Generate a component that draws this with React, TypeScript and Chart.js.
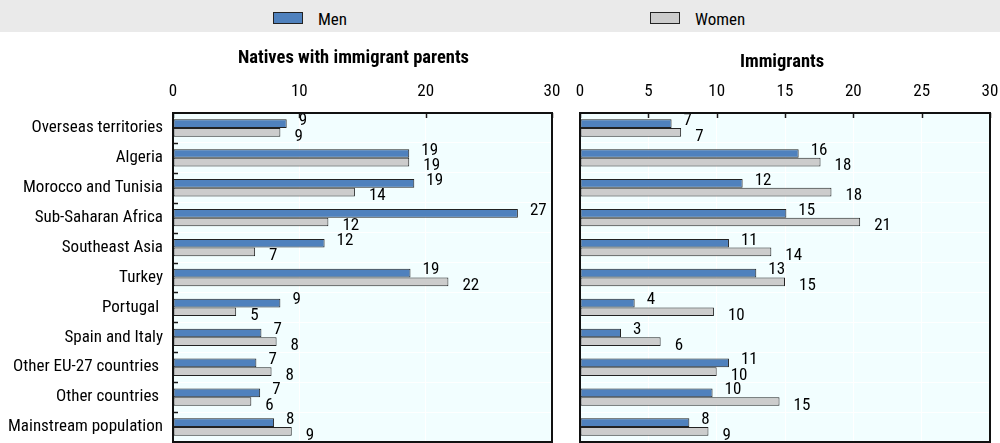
import React, { useEffect, useRef } from "react";
import { Chart, registerables } from "chart.js";

Chart.register(...registerables);

const categories = [
  "Overseas territories",
  "Algeria",
  "Morocco and Tunisia",
  "Sub-Saharan Africa",
  "Southeast Asia",
  "Turkey",
  "Portugal ",
  "Spain and Italy",
  "Other EU-27 countries ",
  "Other countries ",
  "Mainstream population",
];

const seriesNames = ["Men", "Women"];

const nativesMen = [9.0, 18.7, 19.1, 27.3, 12.0, 18.8, 8.5, 7.0, 6.6, 6.9, 8.0];
const nativesWomen = [8.5, 18.7, 14.4, 12.3, 6.5, 21.8, 5.0, 8.2, 7.8, 6.2, 9.4];
const immigrantsMen = [6.7, 16.0, 11.9, 15.1, 10.9, 12.9, 4.0, 3.0, 10.9, 9.7, 8.0];
const immigrantsWomen = [7.4, 17.6, 18.4, 20.5, 14.0, 15.0, 9.8, 5.9, 10.0, 14.6, 9.4];

const panelTitles = ["Natives with immigrant parents", "Immigrants"];

const FAMILY = "Roboto, 'Liberation Sans', sans-serif";
const FS = 17;
const TITLE_FS = 18.5;
const MEN_COLOR = "#4F81BD";
const WOMEN_COLOR = "#CCCCCC";
const EDGE = "#222222";
const PLOT_BG = "#F2FEFF";

const panelPlugin = {
  id: "panel",
  beforeDraw(chart: any) {
    const { ctx, chartArea: a } = chart;
    ctx.save();
    ctx.fillStyle = PLOT_BG;
    ctx.fillRect(a.left, a.top, a.right - a.left, a.bottom - a.top);
    ctx.restore();
  },
  afterDatasetsDraw(chart: any) {
    const { ctx } = chart;
    ctx.save();
    ctx.font = `condensed ${FS}px ${FAMILY}`;
    ctx.fillStyle = "#000";
    ctx.textAlign = "left";
    ctx.textBaseline = "middle";
    chart.data.datasets.forEach((ds: any, di: number) => {
      const meta = chart.getDatasetMeta(di);
      meta.data.forEach((bar: any, i: number) => {
        const v = ds.data[i];
        const dx = di === 0 ? 12 : 14;
        const dy = di === 0 ? -3 : 4;
        ctx.fillText(String(Math.round(v)), bar.x + dx, bar.y + dy);
      });
    });
    ctx.restore();
  },
  afterDraw(chart: any, _args: any, opts: any) {
    const { ctx, chartArea: a } = chart;
    const xs = chart.scales.x;
    const ys = chart.scales.y;
    ctx.save();
    ctx.strokeStyle = "#1a1a1a";
    ctx.lineWidth = 1.5;
    xs.ticks.forEach((t: any) => {
      const px = Math.round(xs.getPixelForValue(t.value)) + 0.5;
      ctx.beginPath();
      ctx.moveTo(px, a.top);
      ctx.lineTo(px, a.top + 5);
      ctx.stroke();
    });
    if (opts.leftTicks) {
      const n = chart.data.labels.length;
      for (let i = 0; i < n - 1; i++) {
        const py = Math.round((ys.getPixelForValue(i) + ys.getPixelForValue(i + 1)) / 2) + 0.5;
        ctx.beginPath();
        ctx.moveTo(a.left, py);
        ctx.lineTo(a.left + 5, py);
        ctx.stroke();
      }
    }
    ctx.lineWidth = 2;
    ctx.strokeStyle = "#111";
    ctx.strokeRect(a.left, a.top, a.right - a.left, a.bottom - a.top);
    ctx.font = `condensed bold ${TITLE_FS}px ${FAMILY}`;
    ctx.fillStyle = "#000";
    ctx.textAlign = "center";
    ctx.textBaseline = "middle";
    ctx.fillText(opts.title, (a.left + a.right) / 2 + opts.titleDx, opts.titleY);
    ctx.restore();
  },
};

function makeConfig(
  men: number[],
  women: number[],
  title: string,
  step: number,
  yWidth: number,
  padRight: number,
  showY: boolean,
  titleDx: number,
  titleY: number
): any {
  const ds = (label: string, data: number[], color: string) => ({
    label,
    data,
    backgroundColor: color,
    borderColor: EDGE,
    borderWidth: 1,
    borderSkipped: false,
    categoryPercentage: 0.58,
    barPercentage: 1,
  });
  return {
    type: "bar",
    data: {
      labels: categories,
      datasets: [ds(seriesNames[0], men, MEN_COLOR), ds(seriesNames[1], women, WOMEN_COLOR)],
    },
    options: {
      indexAxis: "y",
      responsive: false,
      animation: false,
      layout: { padding: { top: 0, right: padRight, bottom: 1, left: 0 } },
      plugins: {
        legend: { display: false },
        tooltip: { enabled: false },
        title: { display: false },
        panel: { title, titleDx, titleY, leftTicks: showY },
      },
      scales: {
        x: {
          position: "top",
          min: 0,
          max: 30,
          ticks: {
            stepSize: step,
            padding: 11,
            color: "#000",
            font: { family: FAMILY, size: FS, weight: "condensed" },
            maxRotation: 0,
          },
          grid: { color: "#ffffff", lineWidth: 1, drawTicks: false },
          border: { display: false },
          afterFit(scale: any) {
            scale.height = 81;
            scale.paddingLeft = 0;
            scale.paddingRight = 0;
          },
        },
        y: {
          ticks: {
            display: showY,
            padding: 10,
            color: "#000",
            font: { family: FAMILY, size: FS, weight: "condensed" },
          },
          grid: { color: "#ffffff", lineWidth: 1, drawTicks: false, offset: true },
          border: { display: false },
          afterFit(scale: any) {
            scale.width = yWidth;
            scale.paddingTop = 0;
            scale.paddingBottom = 0;
          },
        },
      },
    },
    plugins: [panelPlugin],
  };
}

function App() {
  const leftRef = useRef<HTMLCanvasElement>(null);
  const rightRef = useRef<HTMLCanvasElement>(null);

  useEffect(() => {
    const c1 = new Chart(
      leftRef.current as HTMLCanvasElement,
      makeConfig(nativesMen, nativesWomen, panelTitles[0], 10, 173, 14, true, -9, 26)
    );
    const c2 = new Chart(
      rightRef.current as HTMLCanvasElement,
      makeConfig(immigrantsMen, immigrantsWomen, panelTitles[1], 5, 14, 10, false, -3, 30)
    );
    return () => {
      c1.destroy();
      c2.destroy();
    };
  }, []);

  const swatch = (left: number, color: string): React.CSSProperties => ({
    position: "absolute",
    left,
    top: 12,
    width: 30,
    height: 12,
    boxSizing: "border-box",
    background: color,
    border: `1px solid ${EDGE}`,
  });
  const legendText = (left: number): React.CSSProperties => ({
    position: "absolute",
    left,
    top: 9,
    height: 20,
    lineHeight: "20px",
    fontFamily: FAMILY,
    fontStretch: "condensed",
    fontSize: FS,
    color: "#000",
    whiteSpace: "nowrap",
  });

  return (
    <div
      style={{
        position: "absolute",
        left: 0,
        top: 0,
        width: 1000,
        height: 443,
        background: "#ffffff",
        overflow: "hidden",
      }}
    >
      <div style={{ position: "absolute", left: 0, top: 0, width: 1000, height: 32, background: "#EAEAEA" }}>
        <div style={swatch(273, MEN_COLOR)} />
        <div style={legendText(318)}>{seriesNames[0]}</div>
        <div style={swatch(650, WOMEN_COLOR)} />
        <div style={legendText(695)}>{seriesNames[1]}</div>
      </div>
      <canvas
        ref={leftRef}
        width={566}
        height={411}
        style={{ position: "absolute", left: 0, top: 32, width: 566, height: 411 }}
      />
      <canvas
        ref={rightRef}
        width={434}
        height={411}
        style={{ position: "absolute", left: 566, top: 32, width: 434, height: 411 }}
      />
    </div>
  );
}

export default App;
